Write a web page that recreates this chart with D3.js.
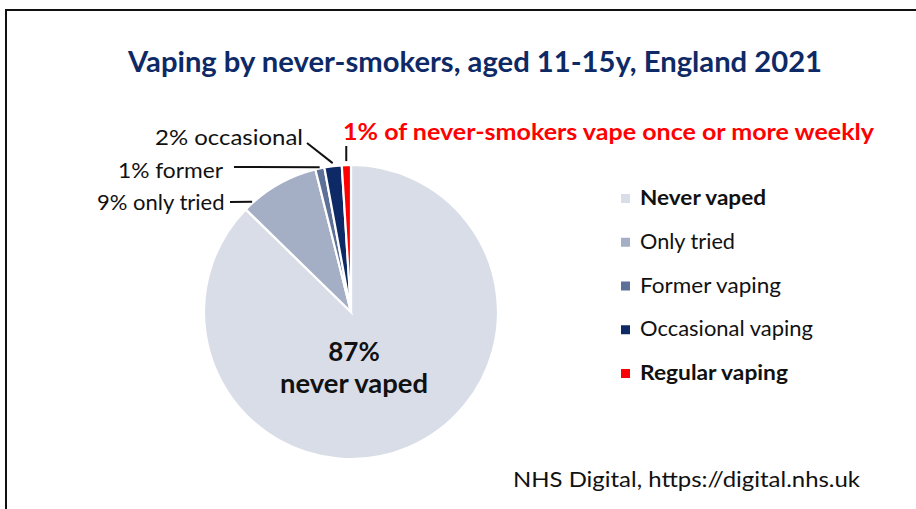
<!DOCTYPE html>
<html><head><meta charset="utf-8">
<script src="https://cdn.jsdelivr.net/npm/d3@7/dist/d3.min.js"></script>
<style>body{margin:0;background:#fff;} svg{display:block;font-family:Lato,"Open Sans",sans-serif;}</style>
</head><body>
<svg id="c" width="916" height="509"></svg>
<script>
// ---- data ----
const categories = ["Never vaped","Only tried","Former vaping","Occasional vaping","Regular vaping"];
const values = [87.3, 8.8, 1.0, 1.9, 1.0];
const sliceLabels = ["87%\nnever vaped","9% only tried","1% former","2% occasional","1% of never-smokers vape once or more weekly"];
const colors = ["#d8dde8","#a4aec5","#5d7097","#0e2a66","#ff0000"];
const titleText = "Vaping by never-smokers, aged 11-15y, England 2021";
const sourceText = "NHS Digital, https://digital.nhs.uk";

const svg = d3.select("#c");
const W=916,H=509, cx=351, cy=312, R=147;

function fit(sel, w){ const n=sel.node(); const l=n.getComputedTextLength(); if(Math.abs(l-w)>1){ sel.attr("textLength",w).attr("lengthAdjust","spacingAndGlyphs"); } return sel; }

// frame
svg.append("rect").attr("x",6).attr("y",10).attr("width",W+10).attr("height",H+10)
  .attr("fill","none").attr("stroke","#111").attr("stroke-width",2);

// title
fit(svg.append("text").attr("x",128).attr("y",72).attr("font-size",28).attr("font-weight","bold")
  .attr("fill","#0e2a66").text(titleText), 694);

const pie = d3.pie().sort(null).value(d=>d).startAngle(0).endAngle(2*Math.PI);
const arcs = pie(values);
const arc = d3.arc().innerRadius(0).outerRadius(R);
const g = svg.append("g").attr("transform",`translate(${cx},${cy})`);
g.selectAll("path").data(arcs).join("path").attr("d",arc)
  .attr("fill",(d,i)=>colors[i]).attr("stroke","#fff").attr("stroke-width",2.2).attr("stroke-linejoin","miter");

// point on the arc at fraction t through slice i, radius r
function pt(i,t,r){ const a=arcs[i].startAngle+(arcs[i].endAngle-arcs[i].startAngle)*t; return [cx+r*Math.sin(a), cy-r*Math.cos(a)]; }

// inside label
const lines = sliceLabels[0].split("\n");
fit(svg.append("text").attr("text-anchor","middle").attr("font-weight","bold").attr("font-size",26).attr("fill","#111")
  .attr("x",354).attr("y",361).text(lines[0]),52);
fit(svg.append("text").attr("text-anchor","middle").attr("font-weight","bold").attr("font-size",26).attr("fill","#111")
  .attr("x",354).attr("y",393).text(lines[1]),148);

// outside labels layout
const outside = [
  {i:1, x:97,  y:210, w:128, from:[230,202], t:0.12, r:R+1, col:"#111", bold:false},
  {i:2, x:118, y:178, w:105, from:[234,167], t:0.5,  r:R+1, col:"#111", bold:false},
  {i:3, x:155, y:145, w:148, from:[307,143], t:0.5,  r:R+3, col:"#111", bold:false},
  {i:4, x:343, y:140, w:531, from:null,      t:0.5,  r:R+4, col:"#ff0000", bold:true}
];
outside.forEach(o=>{
  const end = pt(o.i,o.t,o.r);
  const start = o.from ? o.from : [end[0], 146];
  svg.append("line").attr("x1",start[0]).attr("y1",start[1]).attr("x2",end[0]).attr("y2",end[1])
    .attr("stroke","#111").attr("stroke-width",2);
  fit(svg.append("text").attr("x",o.x).attr("y",o.y).attr("font-size",22)
    .attr("font-weight",o.bold?"bold":"normal").attr("fill",o.col).text(sliceLabels[o.i]), o.w);
});

// legend
const legW = [126,95,141,173,148];
const legY = d3.scalePoint().domain(categories).range([205,380]);
const leg = svg.append("g");
categories.forEach((c,i)=>{
  const y=legY(c);
  leg.append("rect").attr("x",621).attr("y",y-11).attr("width",9).attr("height",9).attr("fill",colors[i]);
  fit(leg.append("text").attr("x",640).attr("y",y).attr("font-size",21)
    .attr("font-weight",(i===0||i===4)?"bold":"normal").attr("fill","#111").text(c), legW[i]);
});

// source
fit(svg.append("text").attr("x",513).attr("y",487).attr("font-size",22).attr("fill","#111").text(sourceText),347);
</script>
</body></html>
